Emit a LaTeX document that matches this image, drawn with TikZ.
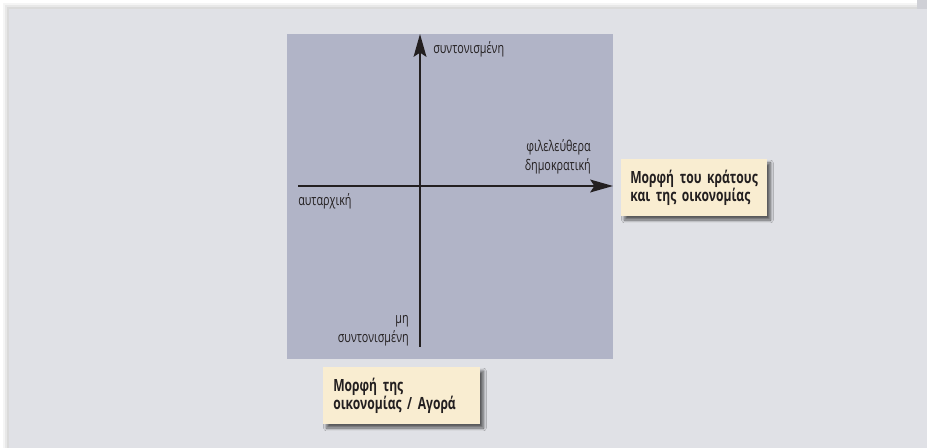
\documentclass[tikz,border=0pt]{standalone}
\usepackage{fontspec}
\setmainfont{Open Sans}
\newfontfamily\lblfont{Open Sans}[FakeStretch=0.73]
\newfontfamily\boxfont{Open Sans}[FakeStretch=0.72, BoldFeatures={FakeStretch=0.72}]
\usetikzlibrary{arrows.meta,shadows.blur}
\definecolor{bgcol}{RGB}{224,225,230}
\definecolor{panelcol}{RGB}{177,180,199}
\definecolor{boxcol}{RGB}{249,237,209}
\definecolor{inkcol}{RGB}{35,31,32}
\definecolor{cornercol}{RGB}{207,208,214}
\tikzset{
  lbl/.style={inner sep=0pt, text=inkcol, font=\lblfont\fontsize{11.1}{14}\selectfont},
  tbox/.style={fill=boxcol, text=inkcol, anchor=north west, align=left,
    font=\boxfont\bfseries\fontsize{12.6}{13.8}\selectfont, inner ysep=0pt,
    minimum height=42.75pt,
    blur shadow={shadow xshift=2.4pt, shadow yshift=-2.8pt, shadow blur steps=6, shadow opacity=60}},
  axis/.style={line width=2pt, draw=inkcol, -{Stealth[length=17pt, width=9.5pt, inset=3pt]}},
  axisplain/.style={line width=2pt, draw=inkcol}
}
\begin{document}
\begin{tikzpicture}[x=0.75pt, y=-0.75pt]
\useasboundingbox (0,0) rectangle (927,448);
\fill[white] (0,0) rectangle (927,448);
% soft shadow of the page panel
\foreach \d/\o in {6/0.04,4/0.05,2/0.06}{
  \fill[black, opacity=\o] (9-\d,9-\d) rectangle (927,448);
}
\fill[bgcol] (9,9) rectangle (927,448);
\fill[cornercol] (917,0) rectangle (927,9);
% chart panel
\node[fill=panelcol, inner sep=0pt, minimum width=244.5pt, minimum height=243.75pt, anchor=north west] (panel) at (287,34) {};
% axes
\coordinate (ytop) at (420,34);
\coordinate (ybot) at (420,347);
\coordinate (xleft) at (298,186);
\coordinate (xright) at (613,186);
\draw[axisplain] (xleft) -- (420,186);
\draw[axis] (420,186) -- (xright);
\draw[axis] (ybot) -- (ytop);
% labels
\node[lbl, anchor=west] (coord) at (433,49) {συντονισμένη};
\node[lbl, anchor=east, align=right] (lib) at (591,157) {φιλελεύθερα\\δημοκρατική};
\node[lbl, anchor=west] (aut) at (298,201) {αυταρχική};
\node[lbl, anchor=east, align=right] (noncoord) at (409,331) {μη\\συντονισμένη};
% boxes
\node[tbox, minimum width=109.5pt, inner xsep=6.75pt, text width=96pt] (state) at (621,159) {\mbox{Μορφή του κράτους}\\\mbox{και της οικονομίας}};
\node[tbox, minimum width=117.75pt, inner xsep=7.5pt, text width=102.75pt] (market) at (323,367) {\mbox{Μορφή της}\\\mbox{οικονομίας / Αγορά}};
\end{tikzpicture}
\end{document}
